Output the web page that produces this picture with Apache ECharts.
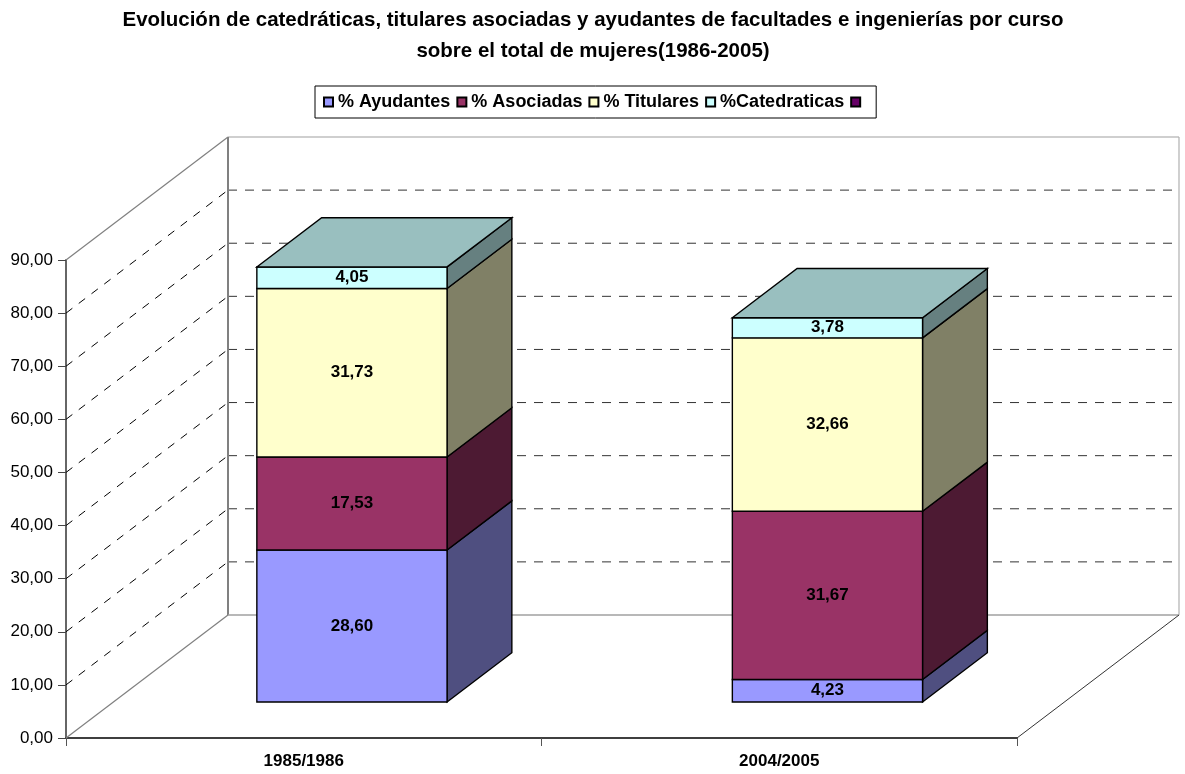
<!DOCTYPE html>
<html>
<head>
<meta charset="utf-8">
<title>Evolución de catedráticas</title>
<script src="https://cdn.jsdelivr.net/npm/echarts@6/dist/echarts.min.js"></script>
<style>
    html, body { margin: 0; padding: 0; background: #fff; }
    #chart { width: 1185px; height: 774px; }
</style>
</head>
<body>
<div id="chart"></div>
<script>
    var categories = ['1985/1986', '2004/2005'];
    var ayudantes = [28.60, 4.23];
    var asociadas = [17.53, 31.67];
    var titulares = [31.73, 32.66];
    var catedraticas = [4.05, 3.78];
    var yTicks = [0, 10, 20, 30, 40, 50, 60, 70, 80, 90];
    var yMax = 90;

    var seriesNames = ['% Ayudantes', '% Asociadas', '% Titulares', '%Catedraticas', ' '];
    var seriesValues = [ayudantes, asociadas, titulares, catedraticas, []];
    var frontColors = ['#9999FF', '#993366', '#FFFFCC', '#CCFFFF', '#660066'];
    var sideColors = ['#4F4F80', '#4D1A33', '#808066', '#668080', '#330033'];
    var topColor = '#99BFBF';

    // profundidad del falso 3D, en pixeles
    var depthX = 162;
    var depthY = 123;
    var barShiftX = 48.2;
    var barDepthStart = 0.293;
    var barDepth = 0.4;
    var barWidth = 0.4;

    function poly(points, fill, stroke, width, dash) {
        return {
            type: 'polygon',
            shape: { points: points },
            style: { fill: fill, stroke: stroke, lineWidth: width, lineDash: dash }
        };
    }

    function line(p1, p2, color, width, dash) {
        return {
            type: 'line',
            shape: { x1: p1[0], y1: p1[1], x2: p2[0], y2: p2[1] },
            style: { stroke: color, lineWidth: width, lineDash: dash, fill: null }
        };
    }

    function renderWalls(params, api) {
        var x0 = api.coord([0, 0])[0] - api.size([1, 0])[0] / 2;
        var x1 = x0 + api.size([1, 0])[0] * categories.length;
        var y0 = api.coord([0, 0])[1];
        var yTop = api.coord([0, yMax])[1];
        var children = [];

        // cuadricula discontinua: pared lateral y pared del fondo
        yTicks.slice(1, -1).forEach(function (t) {
            var y = api.coord([0, t])[1];
            children.push(line([x0, y], [x0 + depthX, y - depthY], '#000', 1, [8, 8]));
            children.push(line([x0 + depthX, y - depthY], [x1 + depthX, y - depthY], '#333', 1, [9, 8]));
        });

        // marco de las paredes
        children.push(line([x0, yTop], [x0 + depthX, yTop - depthY], '#808080', 1.2));
        children.push(line([x0 + depthX, yTop - depthY], [x1 + depthX, yTop - depthY], '#a0a0a0', 1.2));
        children.push(line([x0 + depthX, yTop - depthY], [x0 + depthX, y0 - depthY], '#808080', 2));
        children.push(line([x0 + depthX, y0 - depthY], [x1 + depthX, y0 - depthY], '#a0a0a0', 1.5));
        children.push(line([x1 + depthX, yTop - depthY], [x1 + depthX, y0 - depthY], '#b0b0b0', 1.2));
        children.push(line([x0, y0], [x0 + depthX, y0 - depthY], '#808080', 1.2));
        children.push(line([x1, y0], [x1 + depthX, y0 - depthY], '#333', 1));

        return { type: 'group', children: children };
    }

    function renderSegment(params, api) {
        var cat = api.value(0);
        var from = api.value(1);
        var to = api.value(2);
        var isTop = api.value(3) === 1;
        var s = params.seriesIndex - 1;
        var band = api.size([1, 0])[0];

        var shiftY = depthY * barDepthStart;
        var dx = depthX * barDepth;
        var dy = depthY * barDepth;
        var center = api.coord([cat, 0])[0] + barShiftX;
        var left = center - band * barWidth / 2;
        var right = center + band * barWidth / 2;
        var yBottom = api.coord([cat, from])[1] - shiftY;
        var yTop = api.coord([cat, to])[1] - shiftY;

        var children = [
            poly([[right, yBottom], [right + dx, yBottom - dy], [right + dx, yTop - dy], [right, yTop]], sideColors[s], '#000', 1.4),
            poly([[left, yBottom], [right, yBottom], [right, yTop], [left, yTop]], frontColors[s], '#000', 1.4)
        ];
        if (isTop) {
            children.push(poly([[left, yTop], [right, yTop], [right + dx, yTop - dy], [left + dx, yTop - dy]], topColor, '#000', 1.4));
        }
        children.push({
            type: 'text',
            style: {
                x: center,
                y: (yTop + yBottom) / 2,
                text: (to - from).toFixed(2).replace('.', ','),
                align: 'center',
                verticalAlign: 'middle',
                fill: '#000',
                font: 'bold 17px "Liberation Sans", Arial, sans-serif'
            }
        });
        return { type: 'group', children: children };
    }

    // acumulado por categoria para apilar los tramos
    var barSeries = seriesNames.map(function (name, s) {
        var data = [];
        seriesValues[s].forEach(function (v, cat) {
            var from = 0;
            for (var i = 0; i < s; i++) {
                from += seriesValues[i][cat];
            }
            var isLast = s === 3 ? 1 : 0;
            data.push([cat, from, from + v, isLast]);
        });
        return {
            name: name,
            type: 'custom',
            coordinateSystem: 'cartesian2d',
            renderItem: renderSegment,
            clip: false,
            encode: { x: 0, y: 2 },
            itemStyle: { color: frontColors[s], borderColor: '#000', borderWidth: 1 },
            data: data,
            z: 3
        };
    });

    var chart = echarts.init(document.getElementById('chart'));
    chart.setOption({
        backgroundColor: '#fff',
        animation: false,
        textStyle: { fontFamily: '"Liberation Sans", Arial, sans-serif' },
        title: {
            text: 'Evolución de catedráticas, titulares asociadas y ayudantes de facultades e ingenierías por curso\nsobre el total de mujeres(1986-2005)',
            left: 588,
            top: 0,
            textAlign: 'center',
            textStyle: { fontSize: 20.5, fontWeight: 'bold', color: '#000', lineHeight: 31 }
        },
        legend: {
            left: 315,
            top: 86,
            data: seriesNames,
            selectedMode: false,
            icon: 'rect',
            itemWidth: 9,
            itemHeight: 9,
            itemGap: 6,
            padding: [7, 6, 7, 8],
            borderColor: '#000',
            borderWidth: 1,
            textStyle: { fontSize: 18, fontWeight: 'bold', color: '#000' }
        },
        grid: { left: 66, top: 260, width: 951, height: 478 },
        xAxis: {
            type: 'category',
            data: categories,
            axisLine: { lineStyle: { color: '#000', width: 1.5 } },
            axisTick: { show: true, alignWithLabel: false, length: 8, lineStyle: { color: '#555' } },
            axisLabel: { fontSize: 17, fontWeight: 'bold', color: '#000', margin: 15 },
            splitLine: { show: false }
        },
        yAxis: {
            type: 'value',
            min: 0,
            max: yMax,
            interval: 10,
            axisLine: { show: true, lineStyle: { color: '#666', width: 2 } },
            axisTick: { show: true, length: 8, lineStyle: { color: '#444' } },
            axisLabel: {
                fontSize: 17,
                color: '#000',
                margin: 13,
                formatter: function (v) { return v.toFixed(2).replace('.', ','); }
            },
            splitLine: { show: false }
        },
        series: [{
            name: 'paredes',
            type: 'custom',
            renderItem: renderWalls,
            clip: false,
            silent: true,
            encode: { x: 0, y: 1 },
            data: [[0, 0]],
            z: 1
        }].concat(barSeries)
    });
</script>
</body>
</html>
